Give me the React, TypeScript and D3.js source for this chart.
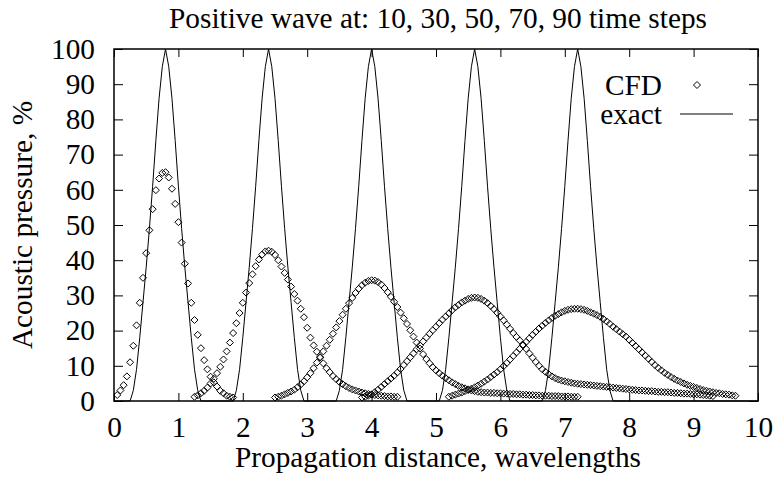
import * as d3 from "d3";
import React, { useEffect, useRef } from "react";

// sampling step of the CFD snapshots, in wavelengths
const DX = 0.05;

const TIME_STEPS = [10, 30, 50, 70, 90];
const CFD_START = [0.05, 1.25, 2.5, 3.85, 5.2];

const CFD_10 = [
  1.7, 3.0, 4.5, 7.0, 11.0, 15.7, 21.5, 27.9, 35.0, 42.0,
  48.5, 54.5, 59.9, 63.2, 64.8, 65.0, 63.5, 60.3, 56.0, 50.8,
  45.0, 39.0, 33.4, 27.9, 23.0, 18.8, 15.0, 11.6, 9.0, 6.9,
  5.3, 4.1, 2.9, 2.2, 1.5, 1.2, 1.0,
];

const CFD_30 = [
  1.2, 1.6, 2.2, 2.9, 3.8, 5.0, 6.3, 7.9, 9.7, 11.8,
  14.1, 16.6, 19.3, 22.1, 25.0, 27.9, 30.8, 33.5, 36.0, 38.3,
  40.2, 41.6, 42.5, 42.7, 42.4, 41.5, 40.0, 38.2, 36.4, 34.5,
  32.5, 30.4, 28.5, 26.2, 23.8, 20.8, 18.0, 15.8, 14.0, 12.3,
  10.7, 9.3, 8.2, 7.1, 6.2, 5.4, 4.8, 4.2, 3.7, 3.3,
  3.0, 2.7, 2.4, 2.2, 2.0, 1.8, 1.7, 1.6, 1.5, 1.4,
  1.3, 1.3, 1.2, 1.2,
];

const CFD_50 = [
  1.0, 1.2, 1.5, 1.9, 2.3, 2.7, 3.2, 3.9, 4.7, 5.6,
  6.7, 7.9, 9.3, 10.9, 12.5, 14.1, 15.7, 17.4, 19.1, 20.9,
  22.7, 24.5, 26.2, 27.8, 29.3, 30.7, 31.9, 32.9, 33.6, 34.1,
  34.3, 34.2, 33.8, 33.1, 32.1, 30.9, 29.6, 28.2, 26.7, 25.1,
  23.5, 21.9, 20.1, 18.3, 16.6, 14.9, 13.3, 11.9, 10.7, 9.6,
  8.7, 7.9, 7.2, 6.5, 5.9, 5.3, 4.8, 4.3, 3.9, 3.6,
  3.3, 3.0, 2.8, 2.6, 2.5, 2.4, 2.4, 2.3, 2.3, 2.2,
  2.2, 2.1, 2.1, 2.0, 2.0, 1.9, 1.9, 1.8, 1.8, 1.7,
  1.7, 1.6, 1.6, 1.5, 1.5, 1.5, 1.4, 1.4, 1.4, 1.3,
  1.3, 1.3, 1.2, 1.2, 1.2,
];

const CFD_70 = [
  1.0, 1.2, 1.5, 1.9, 2.5, 3.2, 4.0, 4.8, 5.6, 6.4,
  7.2, 8.1, 9.1, 10.2, 11.3, 12.4, 13.5, 14.7, 15.8, 16.9,
  18.0, 19.1, 20.1, 21.1, 22.1, 23.1, 24.0, 24.9, 25.8, 26.6,
  27.3, 28.0, 28.5, 29.0, 29.3, 29.4, 29.3, 29.0, 28.5, 27.8,
  27.0, 26.1, 25.1, 24.0, 22.9, 21.7, 20.5, 19.3, 18.2, 17.2,
  16.0, 14.8, 13.5, 12.3, 11.1, 10.0, 9.0, 8.3, 7.6, 7.0,
  6.5, 6.1, 5.8, 5.6, 5.4, 5.2, 5.0, 4.9, 4.8, 4.7,
  4.6, 4.5, 4.4, 4.3, 4.2, 4.1, 4.0, 3.9, 3.8, 3.7,
  3.6, 3.5, 3.4, 3.3, 3.2, 3.1, 3.0, 3.0, 2.9, 2.8,
  2.8, 2.7, 2.6, 2.6, 2.5, 2.5, 2.4, 2.3, 2.3, 2.2,
  2.1, 2.1, 2.0, 1.9, 1.9, 1.8, 1.7, 1.6, 1.5, 1.4,
];

const CFD_90 = [
  1.2, 1.5, 1.8, 2.1, 2.4, 2.8, 3.1, 3.5, 3.9, 4.4,
  4.9, 5.5, 6.1, 6.8, 7.5, 8.2, 9.0, 9.9, 10.8, 11.8,
  12.8, 13.8, 14.8, 15.8, 16.8, 17.8, 18.8, 19.7, 20.6, 21.4,
  22.2, 22.9, 23.6, 24.2, 24.7, 25.2, 25.6, 25.9, 26.1, 26.2,
  26.2, 26.1, 25.9, 25.6, 25.2, 24.8, 24.4, 23.9, 23.3, 22.6,
  21.9, 21.1, 20.4, 19.7, 19.0, 18.3, 17.4, 16.5, 15.6, 14.7,
  13.8, 12.9, 12.0, 11.1, 10.2, 9.4, 8.7, 8.0, 7.4, 6.8,
  6.3, 5.8, 5.4, 5.0, 4.6, 4.3, 4.0, 3.7, 3.4, 3.1,
  2.9, 2.7, 2.5, 2.3, 2.2, 2.0, 1.9, 1.8, 1.6, 1.5,
];

const CFD_SERIES = [CFD_10, CFD_30, CFD_50, CFD_70, CFD_90];

// exact pulse: peak positions and the shape read around one peak
const EXACT_PEAKS = [0.8, 2.4, 4.0, 5.6, 7.2];
const EXACT_OFFSETS = [-0.55, -0.5, -0.45, -0.4, -0.35, -0.3, -0.25, -0.2, -0.15, -0.1, -0.05, 0,
  0.05, 0.1, 0.15, 0.2, 0.25, 0.3, 0.35, 0.4, 0.45, 0.5, 0.55];
const EXACT_SHAPE = [0, 3, 9, 18, 28, 38, 49, 61, 74, 86, 95, 100,
  95, 86, 74, 61, 49, 38, 28, 18, 9, 3, 0];

const X_TICKS = [0, 1, 2, 3, 4, 5, 6, 7, 8, 9, 10];
const Y_TICKS = [0, 10, 20, 30, 40, 50, 60, 70, 80, 90, 100];

const W = 775;
const H = 477;
const FONT = "'Liberation Serif', 'Times New Roman', serif";

const App = () => {
  const ref = useRef<SVGSVGElement>(null);

  useEffect(() => {
    const svg = d3.select(ref.current);
    svg.selectAll("*").remove();

    const left = 114, right = 758, top = 49, bottom = 401;
    const x = d3.scaleLinear().domain([0, 10]).range([left, right]);
    const y = d3.scaleLinear().domain([0, 100]).range([bottom, top]);

    const fontSize = 29.3;

    // axes with inward ticks
    const styleAxis = (g) => {
      g.attr("font-family", FONT).attr("font-size", fontSize);
      g.select(".domain").remove();
      g.selectAll(".tick line").attr("stroke", "#000").attr("stroke-width", 1);
      g.selectAll(".tick text").attr("fill", "#000");
    };

    svg.append("g")
      .attr("transform", `translate(0,${bottom})`)
      .call(d3.axisBottom(x).tickValues(X_TICKS).tickSizeInner(-8).tickSizeOuter(0).tickPadding(15).tickFormat(d3.format("d")))
      .call(styleAxis);
    svg.append("g")
      .attr("transform", `translate(0,${top})`)
      .call(d3.axisTop(x).tickValues(X_TICKS).tickSizeInner(-8).tickSizeOuter(0).tickFormat(() => ""))
      .call(styleAxis);
    svg.append("g")
      .attr("transform", `translate(${left},0)`)
      .call(d3.axisLeft(y).tickValues(Y_TICKS).tickSizeInner(-9).tickSizeOuter(0).tickPadding(19).tickFormat(d3.format("d")))
      .call(styleAxis);
    svg.append("g")
      .attr("transform", `translate(${right},0)`)
      .call(d3.axisRight(y).tickValues(Y_TICKS).tickSizeInner(-9).tickSizeOuter(0).tickFormat(() => ""))
      .call(styleAxis);

    // exact solution line
    const exactPts: [number, number][] = [[0, 0]];
    EXACT_PEAKS.forEach((p) => {
      EXACT_OFFSETS.forEach((o, i) => exactPts.push([p + o, EXACT_SHAPE[i]]));
    });
    exactPts.push([10, 0]);

    const line = d3.line<[number, number]>()
      .x((d) => x(d[0]))
      .y((d) => y(d[1]));

    svg.append("path")
      .attr("d", line(exactPts))
      .attr("fill", "none")
      .attr("stroke", "#000")
      .attr("stroke-width", 1);

    // CFD diamonds
    const r = 3.5;
    const diamond = (cx, cy) => `M${cx},${cy - r}L${cx + r},${cy}L${cx},${cy + r}L${cx - r},${cy}Z`;

    CFD_SERIES.forEach((vals, s) => {
      svg.append("g")
        .attr("class", `cfd-${TIME_STEPS[s]}`)
        .selectAll("path")
        .data(vals)
        .enter()
        .append("path")
        .attr("d", (v, i) => diamond(x(CFD_START[s] + i * DX), y(v)))
        .attr("fill", "none")
        .attr("stroke", "#000")
        .attr("stroke-width", 1);
    });

    // border
    svg.append("rect")
      .attr("x", left).attr("y", top)
      .attr("width", right - left).attr("height", bottom - top)
      .attr("fill", "none")
      .attr("stroke", "#000")
      .attr("stroke-width", 1.5);

    // key
    const key = svg.append("g").attr("font-family", FONT).attr("font-size", fontSize);
    key.append("text").attr("x", 662).attr("y", 85).attr("dy", "0.33em")
      .attr("text-anchor", "end").text("CFD");
    key.append("path").attr("d", diamond(697, 85))
      .attr("fill", "none").attr("stroke", "#000").attr("stroke-width", 1);
    key.append("text").attr("x", 662).attr("y", 114).attr("dy", "0.33em")
      .attr("text-anchor", "end").text("exact");
    key.append("line").attr("x1", 680).attr("x2", 733).attr("y1", 114).attr("y2", 114)
      .attr("stroke", "#000").attr("stroke-width", 1);

    // titles
    svg.append("text")
      .attr("x", (left + right) / 2 + 2).attr("y", 28)
      .attr("text-anchor", "middle")
      .attr("font-family", FONT).attr("font-size", fontSize)
      .text(`Positive wave at: ${TIME_STEPS.join(", ")} time steps`);

    svg.append("text")
      .attr("x", (left + right) / 2 + 2).attr("y", 467)
      .attr("text-anchor", "middle")
      .attr("font-family", FONT).attr("font-size", fontSize)
      .text("Propagation distance, wavelengths");

    svg.append("text")
      .attr("transform", `translate(32,${(top + bottom) / 2}) rotate(-90)`)
      .attr("text-anchor", "middle")
      .attr("font-family", FONT).attr("font-size", fontSize)
      .text("Acoustic pressure, %");
  }, []);

  return (
    <svg
      ref={ref}
      width={W}
      height={H}
      style={{ position: "absolute", left: 0, top: 0, background: "#fff" }}
    />
  );
};

export default App;
